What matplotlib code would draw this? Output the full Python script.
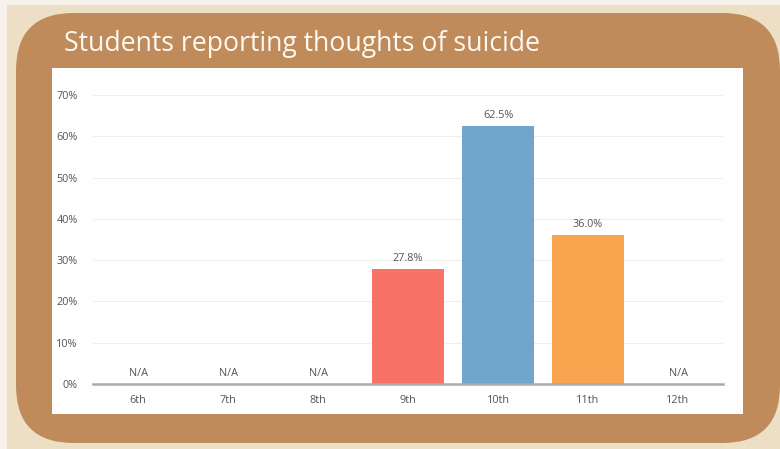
import numpy as np
import matplotlib.pyplot as plt
from matplotlib.patches import FancyBboxPatch, Rectangle

grades = ['6th', '7th', '8th', '9th', '10th', '11th', '12th']
values = [np.nan, np.nan, np.nan, 27.8, 62.5, 36.0, np.nan]
colors = ['#f87268', '#f87268', '#f87268', '#f87268', '#72a5cc', '#f9a550', '#f87268']
yticks = [0, 10, 20, 30, 40, 50, 60, 70]

W, H = 780, 449
fig = plt.figure(figsize=(W / 100, H / 100), dpi=100)
fig.patch.set_facecolor('#f7f3ec')

# background, brown rounded frame and white panel, in pixel coords
def px(x, y, w, h):
    return x / W, 1 - (y + h) / H, w / W, h / H

gx, gy, gw, gh = px(7, 5, 780, 450)
fig.patches.append(Rectangle((gx, gy), gw, gh, transform=fig.transFigure,
                             facecolor='#ecdfc6', edgecolor='none', zorder=0))
bx, by, bw, bh = px(16, 13, 764, 430)
fig.patches.append(FancyBboxPatch((bx, by), bw, bh,
                                  boxstyle='round,pad=0,rounding_size=0.074',
                                  transform=fig.transFigure, facecolor='#c08b5b',
                                  edgecolor='none', mutation_aspect=W / H, zorder=0.2))
wx, wy, ww, wh = px(52, 68, 691, 346)
fig.patches.append(Rectangle((wx, wy), ww, wh, transform=fig.transFigure,
                             facecolor='white', edgecolor='none', zorder=0.5))

fig.text(64 / W, 1 - 44 / H, 'Students reporting thoughts of suicide',
         color='#fdf8f0', fontsize=19.2, family='Open Sans', va='center', ha='left')

ax = fig.add_axes([93 / W, 1 - 384 / H, 630 / W, 289 / H], zorder=2)
ax.set_facecolor('none')
x = np.arange(len(grades))
vals = np.nan_to_num(values)
ax.bar(x, vals, width=0.81, color=colors, zorder=3)

for xi, v in zip(x, values):
    lab = 'N/A' if np.isnan(v) else f'{v:.1f}%'
    yy = 0 if np.isnan(v) else v
    ax.text(xi, yy + 1.3, lab, ha='center', va='bottom', fontsize=7.8,
            color='#555555', family='Open Sans')

ax.set_xlim(-0.5, 6.5)
ax.set_ylim(0, 70)
ax.set_yticks(yticks)
ax.set_yticklabels([f'{t}%' for t in yticks])
ax.set_xticks(x)
ax.set_xticklabels(grades)
ax.yaxis.grid(True, color='#eeeeee', lw=0.8, zorder=0)
for s in ['top', 'right', 'left']:
    ax.spines[s].set_visible(False)
ax.spines['bottom'].set_color('#aaaaaa')
ax.spines['bottom'].set_linewidth(1.8)
ax.spines['bottom'].set_zorder(4)
ax.tick_params(axis='both', length=0, labelsize=7.8, labelcolor='#555555')
ax.tick_params(axis='y', pad=11)
ax.tick_params(axis='x', pad=8)
for t in ax.get_xticklabels() + ax.get_yticklabels():
    t.set_family('Open Sans')

fig.savefig('out.png', dpi=100)
